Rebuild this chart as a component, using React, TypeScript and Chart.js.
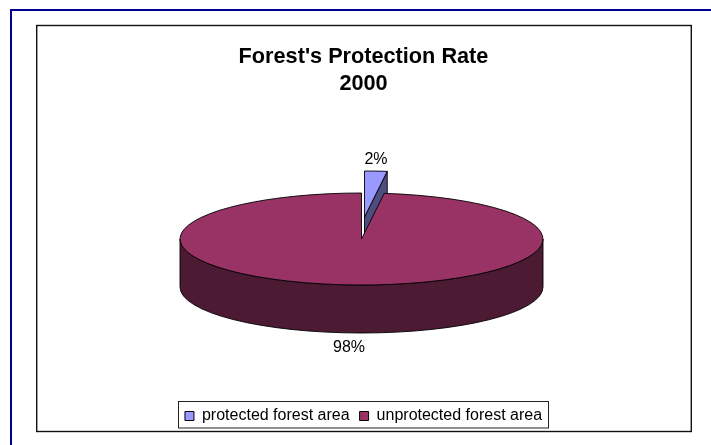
import React, { useEffect, useRef } from "react";
import { Chart, registerables } from "chart.js";

Chart.register(...registerables);

const titleLines = ["Forest's Protection Rate", "2000"];
const categories = ["protected forest area", "unprotected forest area"];
const shares = [2, 98];
const topColors = ["#9999FF", "#993366"];
const wallColors = ["#4D4D80", "#4D1A33"];

const FONT = "'Liberation Sans', Arial, sans-serif";
const CX = 361.5;
const CY = 239;
const R = 181.5;
const RY = 46;
const DEPTH = 48;
const EXPLODE = [3, -22];
const LABEL_POS = [
  [376, 159.5],
  [349, 348],
];

const pie3d = {
  id: "pie3d",
  beforeDraw(chart: any) {
    const { ctx } = chart;
    ctx.save();
    ctx.fillStyle = "#ffffff";
    ctx.fillRect(0, 0, 711, 445);
    ctx.strokeStyle = "#000099";
    ctx.lineWidth = 2;
    ctx.beginPath();
    ctx.moveTo(711, 10);
    ctx.lineTo(11, 10);
    ctx.lineTo(11, 445);
    ctx.stroke();
    ctx.strokeStyle = "#111111";
    ctx.lineWidth = 1.4;
    ctx.strokeRect(36.7, 25.5, 654.6, 406);
    ctx.restore();
  },
  afterDraw(chart: any) {
    const { ctx } = chart;
    ctx.save();
    ctx.strokeStyle = "#222222";
    ctx.lineWidth = 1;
    ctx.strokeRect(178.5, 401.5, 370, 26.5);
    ctx.restore();
  },
  beforeDatasetsDraw(chart: any) {
    const { ctx } = chart;
    const arcs = chart.getDatasetMeta(0).data;
    const k = RY / R;
    const values = chart.data.datasets[0].data as number[];
    const total = values.reduce((a, b) => a + b, 0);

    const fillTop = (arc: any, ox: number, oy: number) => {
      ctx.save();
      ctx.translate(CX + ox, CY + oy);
      ctx.scale(1, k);
      ctx.translate(-arc.x, -arc.y);
      arc.draw(ctx);
      ctx.restore();
    };
    const edge = (arc: any, ox: number, oy: number) => {
      ctx.beginPath();
      ctx.moveTo(CX + ox, CY + oy);
      ctx.ellipse(CX + ox, CY + oy, R, RY, 0, arc.startAngle, arc.endAngle);
      ctx.closePath();
      ctx.stroke();
    };
    ctx.save();
    ctx.strokeStyle = "#000000";
    ctx.lineWidth = 0.9;
    ctx.lineJoin = "round";

    // Exploded small slice: its cut face, then its top
    const small = arcs[0];
    const [ex, ey] = EXPLODE;
    const ax = CX + ex;
    const ay = CY + ey;
    const bx = ax + R * Math.cos(small.endAngle);
    const by = ay + RY * Math.sin(small.endAngle);
    ctx.fillStyle = wallColors[0];
    ctx.beginPath();
    ctx.moveTo(ax, ay);
    ctx.lineTo(bx, by);
    ctx.lineTo(bx, by + DEPTH);
    ctx.lineTo(ax, ay + DEPTH);
    ctx.closePath();
    ctx.fill();
    ctx.stroke();
    fillTop(small, ex, ey);
    edge(small, ex, ey);

    // Main slice: its outer wall, then its top
    const main = arcs[1];
    ctx.fillStyle = wallColors[1];
    ctx.beginPath();
    ctx.ellipse(CX, CY, R, RY, 0, 0, Math.PI);
    ctx.lineTo(CX - R, CY + DEPTH);
    ctx.ellipse(CX, CY + DEPTH, R, RY, 0, Math.PI, 0, true);
    ctx.closePath();
    ctx.fill();
    ctx.stroke();
    fillTop(main, 0, 0);
    edge(main, 0, 0);

    // Percent labels
    ctx.fillStyle = "#000000";
    ctx.font = `16px ${FONT}`;
    ctx.textAlign = "center";
    ctx.textBaseline = "middle";
    values.forEach((v, i) => {
      ctx.fillText(`${Math.round((v / total) * 100)}%`, LABEL_POS[i][0], LABEL_POS[i][1]);
    });
    ctx.restore();
    return false;
  },
};

export default function App() {
  const ref = useRef<HTMLCanvasElement>(null);
  useEffect(() => {
    const chart = new Chart(ref.current as HTMLCanvasElement, {
      type: "pie",
      data: {
        labels: categories,
        datasets: [
          {
            data: shares,
            backgroundColor: topColors,
            borderWidth: 0,
          },
        ],
      },
      options: {
        responsive: false,
        animation: false,
        radius: R,
        layout: { padding: { left: 36, right: 20, top: 27, bottom: 11 } },
        plugins: {
          tooltip: { enabled: false },
          title: {
            display: true,
            text: titleLines,
            color: "#000000",
            font: { family: FONT, size: 21.7, weight: "bold", lineHeight: 1.25 },
            padding: { top: 16.5, bottom: 10 },
          },
          legend: {
            position: "bottom",
            labels: {
              boxWidth: 9,
              boxHeight: 9,
              padding: 10,
              color: "#000000",
              font: { family: FONT, size: 16 },
              generateLabels(c: any) {
                const base = (Chart as any).overrides.pie.plugins.legend.labels.generateLabels(c);
                return base.map((it: any) => ({ ...it, strokeStyle: "#000000", lineWidth: 1 }));
              },
            },
          },
        },
      } as any,
      plugins: [pie3d as any],
    });
    return () => chart.destroy();
  }, []);
  return (
    <div style={{ position: "fixed", left: 0, top: 0, width: 711, height: 445 }}>
      <canvas ref={ref} width={711} height={445} style={{ display: "block" }} />
    </div>
  );
}
